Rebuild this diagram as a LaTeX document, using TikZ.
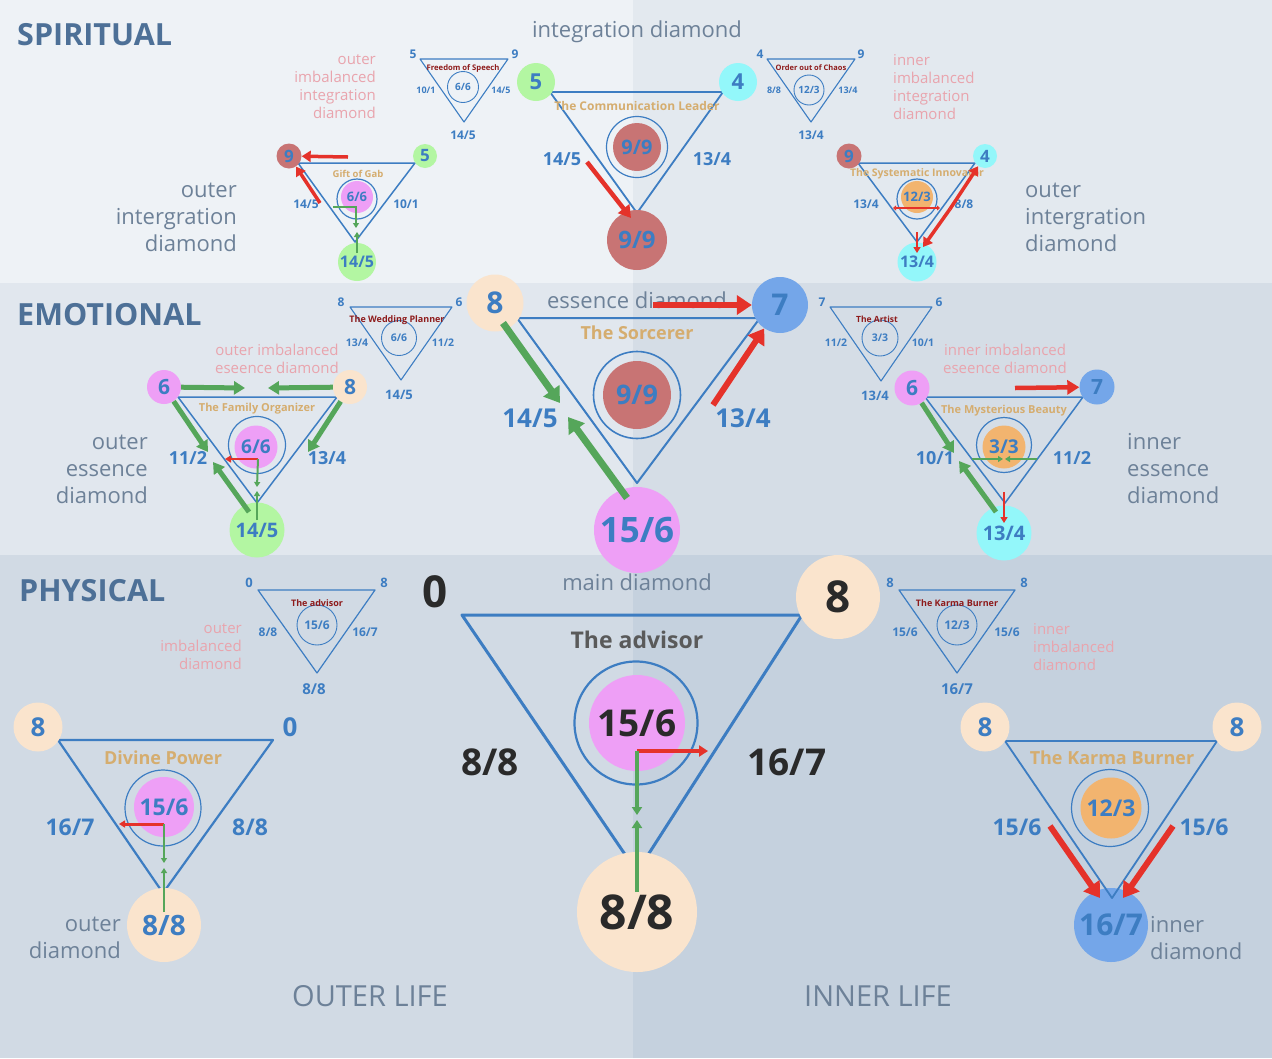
\documentclass[tikz,border=0pt]{standalone}
\usepackage{fontspec}
\setmainfont{Open Sans}
\usetikzlibrary{arrows.meta}
\definecolor{cBlue} {HTML}{3D7DC2}
\definecolor{cTan}  {HTML}{D5AD6F}
\definecolor{cWine} {HTML}{8E1B1B}
\definecolor{cPink} {HTML}{E9A4AD}
\definecolor{cGray} {HTML}{6D8198}
\definecolor{cHead} {HTML}{4D7097}
\definecolor{cInk}  {HTML}{2A2A2A}
\definecolor{cDim}  {HTML}{5A5A5A}
\definecolor{cRed}  {HTML}{E5322A}
\definecolor{cGreen}{HTML}{55A65A}
\definecolor{fGreen}{HTML}{B3F6A2}
\definecolor{fCyan} {HTML}{93F7FA}
\definecolor{fRust} {HTML}{C87474}
\definecolor{fPink} {HTML}{EE9FF6}
\definecolor{fPeach}{HTML}{FAE4CD}
\definecolor{fSky}  {HTML}{74A6E9}
\definecolor{fOrange}{HTML}{F2B46F}
\definecolor{bgTL}{HTML}{EEF2F6}
\definecolor{bgTR}{HTML}{E3E9EF}
\definecolor{bgML}{HTML}{E1E7EE}
\definecolor{bgMR}{HTML}{D5DDE6}
\definecolor{bgBL}{HTML}{D1DAE4}
\definecolor{bgBR}{HTML}{C5D1DE}
\newcommand{\fsz}[1]{\fontsize{#1}{#1}\selectfont}
\tikzset{
  tri/.style    ={draw=cBlue,line width=#1,line join=round},
  tri/.default  =1.5pt,
  ring/.style   ={circle,draw=cBlue,line width=1.2pt,inner sep=0pt,minimum size=#1},
  disc/.style 2 args={circle,fill=#1,inner sep=0pt,minimum size=#2},
  num/.style    ={font=\bfseries\fsz{#1},text=cBlue,inner sep=0pt},
  ttl/.style    ={font=\bfseries\fsz{#1},text=cTan,inner sep=0pt},
  wine/.style   ={font=\bfseries\fsz{#1},text=cWine,inner sep=0pt},
  glabel/.style ={font=\fontsize{22}{27}\selectfont,text=cGray,inner sep=0pt},
  plabel/.style ={font=\fontsize{15}{18}\selectfont,text=cPink,inner sep=0pt},
  head/.style   ={font=\bfseries\fsz{30.5},text=cHead,inner sep=0pt,anchor=west},
  redXL/.style  ={draw=cRed,line width=6pt,-{Triangle[length=15pt,width=19pt]}},
  redL/.style   ={draw=cRed,line width=4.5pt,-{Triangle[length=12pt,width=14pt]}},
  redM/.style   ={draw=cRed,line width=3.5pt,-{Triangle[length=9pt,width=11pt]}},
  redS/.style   ={draw=cRed,line width=2pt,-{Triangle[length=6pt,width=7pt]}},
  grnXL/.style  ={draw=cGreen,line width=7pt,-{Triangle[length=15pt,width=19pt]}},
  grnL/.style   ={draw=cGreen,line width=5pt,-{Triangle[length=11pt,width=13pt]}},
  grnM/.style   ={draw=cGreen,line width=4pt,-{Triangle[length=8pt,width=10pt]}},
  grnS/.style   ={draw=cGreen,line width=2pt,-{Triangle[length=5pt,width=6pt]}},
}

\begin{document}
\begin{tikzpicture}[x=1pt,y=-1pt]
% ---- background ---------------------------------------------------------
\fill[bgTL] (0,0) rectangle (633,283);
\fill[bgTR] (633,0) rectangle (1272,283);
\fill[bgML] (0,283) rectangle (633,555);
\fill[bgMR] (633,283) rectangle (1272,555);
\fill[bgBL] (0,555) rectangle (633,1058);
\fill[bgBR] (633,555) rectangle (1272,1058);
\useasboundingbox (0,0) rectangle (1272,1058);

% ---- spiritual ----------------------------------------------------------
\node[head] (hSpi) at (17,35) {SPIRITUAL};
\node[glabel] (gInt) at (637,32) {integration diamond};
\node[plabel,align=right,anchor=east] (pOutInt) at (376,87) {outer\\imbalanced\\integration\\diamond};
\node[plabel,align=left,anchor=west] (pInInt) at (893,87) {inner\\imbalanced\\integration\\diamond};
\node[glabel,align=right,anchor=east] (gOutInt) at (237,217) {outer\\intergration\\diamond};
\node[glabel,align=left,anchor=west] (gInInt) at (1025,217) {outer\\intergration\\diamond};

% freedom of speech
\draw[tri=1.1pt] (420,59) -- (508,59) -- (464,122) -- cycle;
\node[ring=31pt,num=10,line width=.9pt] (fsC) at (463,87) {6/6};
\node[wine=7.7] (fsT) at (463,68) {Freedom of Speech};
\foreach \n/\p/\s/\t in {fs5/{413,54}/12/5, fs9/{515,54}/12/9, fsL/{426,90}/9/{10/1},
                         fsR/{501,90}/9/{14/5}, fsB/{463,135}/12/{14/5}}
  {\node[num=\s] (\n) at (\p) {\t};}

% gift of gab
\draw[tri] (298,163) -- (415,163) -- (355,242) -- cycle;
\node[ring=40pt] (ggR) at (357,199) {};
\node[disc={fPink}{32pt},num=13] (ggC) at (357,197) {6/6};
\node[disc={fRust}{25pt},num=17] (gg9) at (289,156) {9};
\node[disc={fGreen}{24pt},num=17] (gg5) at (425,156) {5};
\node[disc={fGreen}{38pt},num=16] (ggB) at (357,262) {14/5};
\node[ttl=9.5] (ggT) at (358,174) {Gift of Gab};
\node[num=12] (ggL) at (306,204) {14/5};
\node[num=12] (ggRt) at (406,204) {10/1};
\coordinate (ggA1) at (348,157);
\coordinate (ggA2) at (320,203);
\coordinate (ggH) at (333,207);
\coordinate (ggK) at (356,207);
\coordinate (ggD) at (356,228);
\coordinate (ggU1) at (357,253);
\coordinate (ggU2) at (357,232);
\draw[redM] (ggA1) -- (gg9);
\draw[redM] (ggA2) -- (gg9);
\draw[grnS] (ggH) -- (ggK) -- (ggD);
\draw[grnS] (ggU1) -- (ggU2);

% communication leader
\draw[tri=1.8pt] (550,92) -- (723,92) -- (637,213) -- cycle;
\node[ring=61pt] (clR) at (637,147) {};
\node[disc={fRust}{48pt},num=20] (clC) at (637,147) {9/9};
\node[disc={fGreen}{38pt},num=22] (cl5) at (536,82) {5};
\node[disc={fCyan}{38pt},num=22] (cl4) at (738,82) {4};
\node[disc={fRust}{60pt},num=24] (clB) at (637,240) {9/9};
\node[ttl=12] (clT) at (637,106) {The Communication Leader};
\node[num=18] (clL) at (562,159) {14/5};
\node[num=18] (clRt) at (712,159) {13/4};
\coordinate (clA) at (587,162);
\coordinate (clE) at (631,218);
\draw[redL] (clA) -- (clE);

% order out of chaos
\draw[tri=1.1pt] (767,59) -- (855,59) -- (811,122) -- cycle;
\node[ring=30pt,num=10,line width=.9pt] (ocC) at (809,90) {12/3};
\node[wine=7.5] (ocT) at (811,68) {Order out of Chaos};
\foreach \n/\p/\s/\t in {oc4/{760,54}/12/4, oc9/{861,54}/12/9, ocL/{774,90}/9/{8/8},
                         ocR/{848,90}/9/{13/4}, ocB/{811,135}/12/{13/4}}
  {\node[num=\s] (\n) at (\p) {\t};}

% systematic innovator
\draw[tri] (858,163) -- (975,163) -- (917,242) -- cycle;
\node[ring=40pt] (siR) at (917,199) {};
\node[disc={fOrange}{32pt},num=13] (siC) at (917,197) {12/3};
\node[disc={fRust}{25pt},num=17] (si9) at (849,156) {9};
\node[disc={fCyan}{24pt},num=17] (si4) at (985,156) {4};
\node[disc={fCyan}{39pt},num=16] (siB) at (917,262) {13/4};
\node[ttl=10.5] (siT) at (917,174) {The Systematic Innovator};
\node[num=12] (siL) at (866,204) {13/4};
\node[num=12] (siRt) at (964,204) {8/8};
\coordinate (siW) at (893,208);
\coordinate (siE) at (940,208);
\coordinate (siM) at (950,209);
\coordinate (siN) at (923,247);
\coordinate (siV1) at (917,232);
\coordinate (siV2) at (917,253);
\draw[draw=cRed,line width=1.6pt,{Triangle[length=3pt,width=5pt]}-{Triangle[length=3pt,width=5pt]}] (siW) -- (siE);
\draw[redM] (siM) -- (si4);
\draw[redM] (siM) -- (siN);
\draw[redS] (siV1) -- (siV2);

% ---- emotional ----------------------------------------------------------
\node[head] (hEmo) at (17,315) {EMOTIONAL};
\node[glabel] (gEss) at (637,300) {essence diamond};
\node[plabel,align=center] (pOutEss) at (277,359) {outer imbalanced\\eseence diamond};
\node[plabel,align=center] (pInEss) at (1005,359) {inner imbalanced\\eseence diamond};
\node[glabel,align=right,anchor=east] (gOutEss) at (148,469) {outer\\essence\\diamond};
\node[glabel,align=left,anchor=west] (gInEss) at (1127,469) {inner\\essence\\diamond};

% wedding planner
\draw[tri=1.1pt] (350,307) -- (452,307) -- (401,380) -- cycle;
\node[ring=35pt,num=10.5,line width=.9pt] (wpC) at (399,338) {6/6};
\node[wine=9] (wpT) at (397,320) {The Wedding Planner};
\foreach \n/\p/\s/\t in {wp8/{341,302}/12/8, wp6/{459,302}/12/6, wpL/{357,343}/10.5/{13/4},
                         wpR/{443,343}/10.5/{11/2}, wpB/{399,395}/13/{14/5}}
  {\node[num=\s] (\n) at (\p) {\t};}

% family organizer
\draw[tri] (178,397) -- (337,397) -- (257,503) -- cycle;
\node[ring=57pt] (foR) at (257,445) {};
\node[disc={fPink}{43pt},num=19] (foC) at (256,447) {6/6};
\node[disc={fPink}{34pt},num=21] (fo6) at (164,387) {6};
\node[disc={fPeach}{34pt},num=21] (fo8) at (350,387) {8};
\node[disc={fGreen}{55pt},num=20] (foB) at (257,530) {14/5};
\node[ttl=11] (foT) at (257,409) {The Family Organizer};
\node[num=18] (foL) at (188,458) {11/2};
\node[num=18] (foRt) at (327,458) {13/4};
\coordinate (foA1) at (245,388);
\coordinate (foA2) at (268,388);
\coordinate (foA3) at (208,452);
\coordinate (foA4) at (308,452);
\coordinate (foA5) at (249,512);
\coordinate (foA6) at (213,462);
\coordinate (foK) at (258,459);
\coordinate (foW) at (225,459);
\coordinate (foD) at (257,487);
\coordinate (foU1) at (257,520);
\coordinate (foU2) at (257,491);
\draw[grnL] (fo6) -- (foA1);
\draw[grnL] (fo8) -- (foA2);
\draw[grnL] (fo6) -- (foA3);
\draw[grnL] (fo8) -- (foA4);
\draw[grnL] (foA5) -- (foA6);
\draw[redS] (foK) -- (foW);
\draw[grnS] (foK) -- (foD);
\draw[grnS] (foU1) -- (foU2);

% sorcerer
\draw[tri=2pt] (517,318) -- (760,318) -- (637,483) -- cycle;
\node[ring=87pt,line width=1.6pt] (soR) at (637,395) {};
\node[disc={fRust}{68pt},num=27] (soC) at (637,395) {9/9};
\node[disc={fPeach}{57pt},num=30] (so8) at (495,303) {8};
\node[disc={fSky}{56pt},num=30] (so7) at (780,305) {7};
\node[disc={fPink}{86pt},num=35] (soB) at (637,530) {15/6};
\node[ttl=18] (soT) at (637,333) {The Sorcerer};
\node[num=26] (soL) at (530,418) {14/5};
\node[num=26] (soRt) at (743,418) {13/4};
\coordinate (soA1) at (653,305);
\coordinate (soA2) at (713,405);
\coordinate (soA3) at (503,323);
\coordinate (soA4) at (560,403);
\coordinate (soA5) at (627,498);
\coordinate (soA6) at (568,417);
\draw[redXL] (soA1) -- (so7);
\draw[redXL] (soA2) -- (so7);
\draw[grnXL] (soA3) -- (soA4);
\draw[grnXL] (soA5) -- (soA6);

% artist
\draw[tri=1.1pt] (830,307) -- (932,307) -- (881,381) -- cycle;
\node[ring=36pt,num=10.5,line width=.9pt] (arC) at (880,338) {3/3};
\node[wine=8.5] (arT) at (877,319) {The Artist};
\foreach \n/\p/\s/\t in {ar7/{822,302}/12/7, ar6/{939,302}/12/6, arL/{836,343}/10.5/{11/2},
                         arR/{923,343}/10.5/{10/1}, arB/{875,396}/13/{13/4}}
  {\node[num=\s] (\n) at (\p) {\t};}

% mysterious beauty
\draw[tri] (925,397) -- (1083,397) -- (1005,503) -- cycle;
\node[ring=55pt] (mbR) at (1004,445) {};
\node[disc={fOrange}{43pt},num=19] (mbC) at (1004,447) {3/3};
\node[disc={fPink}{35pt},num=21] (mb6) at (912,388) {6};
\node[disc={fSky}{35pt},num=21] (mb7) at (1097,387) {7};
\node[disc={fCyan}{55pt},num=20] (mbB) at (1004,533) {13/4};
\node[ttl=11] (mbT) at (1004,411) {The Mysterious Beauty};
\node[num=18] (mbL) at (935,458) {10/1};
\node[num=18] (mbRt) at (1072,458) {11/2};
\coordinate (mbA1) at (1015,388);
\coordinate (mbA2) at (954,453);
\coordinate (mbA3) at (996,512);
\coordinate (mbA4) at (959,461);
\coordinate (mbW) at (972,459);
\coordinate (mbM1) at (1003,459);
\coordinate (mbE) at (1037,459);
\coordinate (mbM2) at (1005,459);
\coordinate (mbV1) at (1004,492);
\coordinate (mbV2) at (1004,523);
\draw[redL] (mbA1) -- (mb7);
\draw[grnL] (mb6) -- (mbA2);
\draw[grnL] (mbA3) -- (mbA4);
\draw[grnS] (mbW) -- (mbM1);
\draw[grnS] (mbE) -- (mbM2);
\draw[redS] (mbV1) -- (mbV2);

% ---- physical -----------------------------------------------------------
\node[head] (hPhy) at (19,591) {PHYSICAL};
\node[glabel] (gMain) at (637,582) {main diamond};
\node[plabel,align=right,anchor=east] (pOutImb) at (242,647) {outer\\imbalanced\\diamond};
\node[plabel,align=left,anchor=west] (pInImb) at (1033,647) {inner\\imbalanced\\diamond};
\node[glabel,align=right,anchor=east] (gOut) at (121,938) {outer\\diamond};
\node[glabel,align=left,anchor=west] (gIn) at (1150,938) {inner\\diamond};
\node[glabel,font=\fsz{29}] (gOL) at (370,996) {OUTER LIFE};
\node[glabel,font=\fsz{29}] (gIL) at (878,996) {INNER LIFE};

% small advisor
\draw[tri=1.2pt] (258,590) -- (375,590) -- (317,673) -- cycle;
\node[ring=40pt,num=12,line width=.9pt] (saC) at (317,625) {15/6};
\node[wine=9] (saT) at (317,603) {The advisor};
\foreach \n/\p/\s/\t in {sa0/{249,583}/13/0, sa8/{384,583}/13/8, saL/{268,632}/12/{8/8},
                         saR/{365,632}/12/{16/7}, saB/{314,689}/15/{8/8}}
  {\node[num=\s] (\n) at (\p) {\t};}

% main diamond
\draw[tri=3pt] (462,615) -- (802,615) -- (637,872) -- cycle;
\node[ring=123pt,line width=2.2pt] (mdR) at (636,723) {};
\node[disc={fPink}{96pt},num=37,text=cInk] (mdC) at (637,723) {15/6};
\node[disc={fPeach}{84pt},num=44,text=cInk] (md8) at (838,597) {8};
\node[disc={fPeach}{120pt},num=48,text=cInk] (mdB) at (637,912) {8/8};
\node[num=44,text=cInk] (md0) at (435,592) {0};
\node[ttl=23,text=cDim] (mdT) at (637,640) {The advisor};
\node[num=37,text=cInk] (mdL) at (490,762) {8/8};
\node[num=37,text=cInk] (mdRt) at (787,762) {16/7};
\coordinate (mdK) at (637,751);
\coordinate (mdE) at (708,751);
\coordinate (mdD) at (637,815);
\coordinate (mdU1) at (637,892);
\coordinate (mdU2) at (637,820);
\draw[redM] (mdK) -- (mdE);
\draw[grnM] (mdK) -- (mdD);
\draw[grnM] (mdU1) -- (mdU2);

% divine power
\draw[tri=2.2pt] (58,740) -- (273,740) -- (163,893) -- cycle;
\node[ring=76pt] (dpR) at (163,808) {};
\node[disc={fPink}{60pt},num=23] (dpC) at (164,807) {15/6};
\node[disc={fPeach}{49pt},num=26] (dp8) at (38,727) {8};
\node[num=26] (dp0) at (290,727) {0};
\node[disc={fPeach}{74pt},num=28] (dpB) at (164,925) {8/8};
\node[ttl=18] (dpT) at (163,758) {Divine Power};
\node[num=23] (dpL) at (70,827) {16/7};
\node[num=23] (dpRt) at (250,827) {8/8};
\coordinate (dpK) at (164,824);
\coordinate (dpW) at (119,824);
\coordinate (dpD) at (164,863);
\coordinate (dpU1) at (164,912);
\coordinate (dpU2) at (164,868);
\draw[redS,line width=3pt] (dpK) -- (dpW);
\draw[grnS,line width=2.5pt] (dpK) -- (dpD);
\draw[grnS,line width=2.5pt] (dpU1) -- (dpU2);

% small karma burner
\draw[tri=1.2pt] (899,590) -- (1015,590) -- (957,673) -- cycle;
\node[ring=40pt,num=12,line width=.9pt] (kbC) at (957,625) {12/3};
\node[wine=9] (kbT) at (957,603) {The Karma Burner};
\foreach \n/\p/\s/\t in {kb8a/{890,583}/13/8, kb8b/{1024,583}/13/8, kbL/{905,632}/12/{15/6},
                         kbR/{1007,632}/12/{15/6}, kbB/{957,689}/15/{16/7}}
  {\node[num=\s] (\n) at (\p) {\t};}

% karma burner
\node[disc={fSky}{74pt},num=30] (krB) at (1111,925) {16/7};
\draw[tri=1.8pt] (1005,741) -- (1217,741) -- (1112,898) -- cycle;
\node[ring=77pt] (krR) at (1110,808) {};
\node[disc={fOrange}{61pt},num=23] (krC) at (1111,808) {12/3};
\node[disc={fPeach}{49pt},num=26] (kr8a) at (985,727) {8};
\node[disc={fPeach}{49pt},num=26] (kr8b) at (1237,727) {8};
\node[ttl=18] (krT) at (1112,758) {The Karma Burner};
\node[num=23] (krL) at (1017,827) {15/6};
\node[num=23] (krRt) at (1204,827) {15/6};
\coordinate (krA1) at (1050,826);
\coordinate (krE1) at (1100,898);
\coordinate (krA2) at (1173,826);
\coordinate (krE2) at (1123,898);
\draw[redXL] (krA1) -- (krE1);
\draw[redXL] (krA2) -- (krE2);
\end{tikzpicture}
\end{document}
